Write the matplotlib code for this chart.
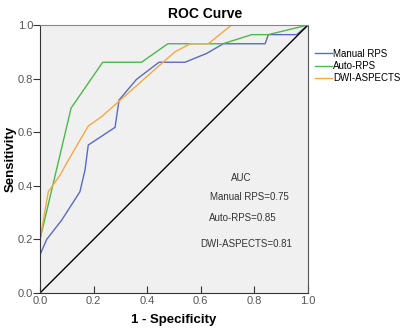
import numpy as np
import matplotlib.pyplot as plt

plt.rcParams['font.family'] = ['Liberation Sans', 'DejaVu Sans']

# ROC curves (1 - specificity, sensitivity)
manual_x = [0.0, 0.025, 0.081, 0.149, 0.168, 0.18, 0.28, 0.295, 0.36, 0.444, 0.541, 0.622, 0.684, 0.84, 0.852, 0.958, 1.0]
manual_y = [0.142, 0.2, 0.272, 0.378, 0.459, 0.552, 0.618, 0.72, 0.797, 0.861, 0.861, 0.894, 0.93, 0.93, 0.964, 0.964, 1.0]

auto_x = [0.0, 0.116, 0.234, 0.379, 0.477, 0.683, 0.79, 0.852, 1.0]
auto_y = [0.2, 0.69, 0.861, 0.861, 0.93, 0.93, 0.964, 0.964, 1.0]

dwi_x = [0.0, 0.031, 0.075, 0.106, 0.18, 0.23, 0.441, 0.504, 0.56, 0.628, 0.715, 1.0]
dwi_y = [0.2, 0.378, 0.44, 0.496, 0.623, 0.658, 0.845, 0.9, 0.93, 0.93, 1.0, 1.0]

labels = ['Manual RPS', 'Auto-RPS', 'DWI-ASPECTS']
colors = ['#5a6bbf', '#4cb84c', '#f5a844']
auc_text = ['AUC', 'Manual RPS=0.75', 'Auto-RPS=0.85', 'DWI-ASPECTS=0.81']
ticks = [0.0, 0.2, 0.4, 0.6, 0.8, 1.0]

fig = plt.figure(figsize=(4, 3.35), dpi=100)
ax = fig.add_axes([0.1, 0.1254, 0.67, 0.8])
ax.set_facecolor('#f0f0f0')

ax.plot(manual_x, manual_y, color=colors[0], lw=1, label=labels[0])
ax.plot(auto_x, auto_y, color=colors[1], lw=1, label=labels[1])
ax.plot(dwi_x, dwi_y, color=colors[2], lw=1, label=labels[2])
ax.plot([0, 1], [0, 1], color='black', lw=1)

ax.set_xlim(0, 1)
ax.set_ylim(0, 1)
ax.set_xticks(ticks)
ax.set_yticks(ticks)
ax.set_xticklabels(['%.1f' % t for t in ticks])
ax.set_yticklabels(['%.1f' % t for t in ticks])
ax.tick_params(axis='x', direction='in', length=5, pad=2, labelsize=8, labelcolor='#555555', color='#333333')
ax.tick_params(axis='y', direction='out', length=5, pad=0, labelsize=8, labelcolor='#555555', color='#333333')

ax.spines['left'].set_color('#333333')
ax.spines['bottom'].set_color('#333333')
ax.spines['top'].set_color('#888888')
ax.spines['right'].set_color('#555555')

fig.text(0.5125, 0.958, 'ROC Curve', fontsize=10, fontweight='bold', ha='center', va='center')
ax.set_xlabel('1 - Specificity', fontsize=9.5, fontweight='bold', labelpad=6)
ax.set_ylabel('Sensitivity', fontsize=9.5, fontweight='bold')
ax.yaxis.set_label_coords(-0.086, 0.5)

ax.text(0.75, 0.43, auc_text[0], fontsize=7, ha='center', va='center', color='#333333')
ax.text(0.634, 0.359, auc_text[1], fontsize=7, ha='left', va='center', color='#333333')
ax.text(0.63, 0.279, auc_text[2], fontsize=7, ha='left', va='center', color='#333333')
ax.text(0.597, 0.183, auc_text[3], fontsize=7, ha='left', va='center', color='#333333')

fig.legend(loc='upper left', bbox_to_anchor=(0.7875, 0.855), frameon=False, fontsize=7,
           handlelength=1.75, handletextpad=0.15, labelspacing=0.25, borderpad=0, borderaxespad=0)

fig.savefig('out.png', dpi=100)
